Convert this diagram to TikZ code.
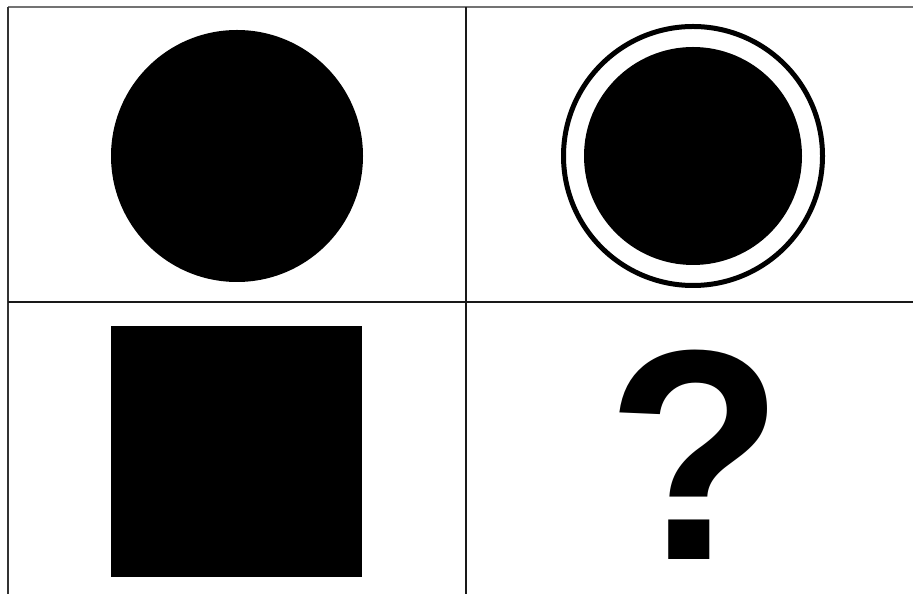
\documentclass[tikz,border=0pt]{standalone}
\usepackage{fontspec}
\setmainfont{Liberation Sans}
\begin{document}
\begin{tikzpicture}[x=1pt,y=1pt,
  gridline/.style={line width=2pt,black!90},
  topline/.style={line width=1.3pt,black!55},
  leftline/.style={line width=2.6pt,black!80},
  blob/.style={fill=black}]
\useasboundingbox (0,0) rectangle (913,594);
\fill[white] (0,0) rectangle (913,594);
% borders and grid
\coordinate (tl) at (8,587);
\coordinate (tr) at (913,587);
\coordinate (bl) at (8,0);
\coordinate (vt) at (466,587);
\coordinate (vb) at (466,0);
\coordinate (hl) at (8,292);
\coordinate (hr) at (913,292);
\draw[topline] (tl) -- (tr);
\draw[leftline] (tl) -- (bl);
\draw[gridline] (vt) -- (vb);
\draw[gridline] (hl) -- (hr);
% top-left: filled circle
\fill[blob] (237,438) circle[radius=126];
% top-right: ring with filled circle
\draw[line width=5pt] (693,438) circle[radius=129.5];
\fill[blob] (693,438) circle[radius=109];
% bottom-left: square
\fill[blob] (111,17) rectangle (362,268);
% bottom-right: question mark
\node[inner sep=0pt,anchor=base,xscale=0.97] (q) at (695,34) {\fontsize{300}{300}\selectfont\bfseries ?};
\end{tikzpicture}
\end{document}
